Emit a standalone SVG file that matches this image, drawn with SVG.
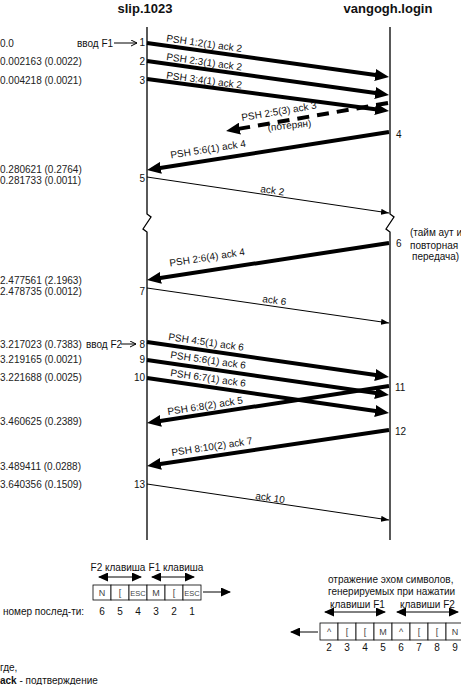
<svg xmlns="http://www.w3.org/2000/svg" width="461" height="685" viewBox="0 0 461 685">
<defs>
<style>
text{font-family:"Liberation Sans",Arial,sans-serif;font-size:10px;fill:#111}
.hdr{font-size:13px;font-weight:bold}
.tm{fill:#222}
.thick{stroke:#000;stroke-width:4;fill:none}
.thin{stroke:#000;stroke-width:1;fill:none}
.dash{stroke:#000;stroke-width:4;fill:none;stroke-dasharray:12 8}
.life{stroke:#000;stroke-width:1.3;fill:none}
.box{fill:#fff;stroke:#000;stroke-width:0.8}
.bc{font-size:9px;fill:#444;text-anchor:middle}
.esc{font-size:7.5px}
.num{text-anchor:middle}
.r{text-anchor:end}
</style>
<marker id="big" markerUnits="userSpaceOnUse" markerWidth="14" markerHeight="12" refX="4" refY="6" orient="auto"><path d="M0,0 L14,6 L0,12 z" fill="#000"/></marker>
<marker id="sm" markerUnits="userSpaceOnUse" markerWidth="8" markerHeight="6" refX="8" refY="3" orient="auto"><path d="M0,0 L8,3 L0,6 z" fill="#000"/></marker>
<marker id="mid" markerUnits="userSpaceOnUse" markerWidth="10" markerHeight="9" refX="9" refY="4.5" orient="auto-start-reverse"><path d="M0,0 L10,4.5 L0,9 z" fill="#000"/></marker>
<marker id="open" markerUnits="userSpaceOnUse" markerWidth="7" markerHeight="7" refX="6" refY="3.5" orient="auto"><path d="M0,0.5 L6,3.5 L0,6.5" fill="none" stroke="#000" stroke-width="1"/></marker>
</defs>
<rect width="461" height="685" fill="#fff"/>

<g id="host-slip">
<text class="hdr" x="145" y="13" text-anchor="middle">slip.1023</text>
<polyline class="life" points="147,27 147,214 151,217 143,229 147,232 147,540"/>
</g>
<g id="host-vangogh">
<text class="hdr" x="388" y="13" text-anchor="middle">vangogh.login</text>
<polyline class="life" points="390,27 390,214 394,217 386,229 390,232 390,540"/>
</g>

<g id="times">
<text class="tm" x="0" y="46.5">0.0</text>
<text class="tm" x="0" y="64.5">0.002163 (0.0022)</text>
<text class="tm" x="0" y="83.5">0.004218 (0.0021)</text>
<text class="tm" x="0" y="172.5">0.280621 (0.2764)</text>
<text class="tm" x="0" y="183.5">0.281733 (0.0011)</text>
<text class="tm" x="0" y="283.5">2.477561 (2.1963)</text>
<text class="tm" x="0" y="294.5">2.478735 (0.0012)</text>
<text class="tm" x="0" y="347.5">3.217023 (0.7383)</text>
<text class="tm" x="0" y="362.5">3.219165 (0.0021)</text>
<text class="tm" x="0" y="380.5">3.221688 (0.0025)</text>
<text class="tm" x="0" y="424.5">3.460625 (0.2389)</text>
<text class="tm" x="0" y="469.5">3.489411 (0.0288)</text>
<text class="tm" x="0" y="487.5">3.640356 (0.1509)</text>
</g>

<g id="inputs">
<text x="77" y="46.5">ввод F1</text>
<line class="thin" x1="114" y1="43" x2="137" y2="43" marker-end="url(#open)"/>
<text x="86" y="347.5">ввод F2</text>
<line class="thin" x1="121" y1="344" x2="136" y2="344" marker-end="url(#open)"/>
</g>

<g id="connectors">
<line class="thick" x1="147" y1="43" x2="379.1" y2="75.6" marker-end="url(#big)"/>
<line class="thick" x1="147" y1="61" x2="379.1" y2="93.6" marker-end="url(#big)"/>
<line class="thick" x1="147" y1="79" x2="379.1" y2="109.7" marker-end="url(#big)"/>
<line class="dash" x1="388" y1="103" x2="235.9" y2="129.3" marker-end="url(#big)"/>
<line class="thick" x1="389" y1="132" x2="156.9" y2="168.5" marker-end="url(#big)"/>
<line class="thin" x1="147" y1="177" x2="389" y2="213" marker-end="url(#sm)"/>
<line class="thick" x1="389" y1="243" x2="156.9" y2="278.5" marker-end="url(#big)"/>
<line class="thin" x1="147" y1="288" x2="389" y2="323" marker-end="url(#sm)"/>
<line class="thick" x1="147" y1="342" x2="379.1" y2="375.6" marker-end="url(#big)"/>
<line class="thick" x1="147" y1="360" x2="379.1" y2="393.6" marker-end="url(#big)"/>
<line class="thick" x1="147" y1="378" x2="379.1" y2="411.6" marker-end="url(#big)"/>
<line class="thick" x1="389" y1="386" x2="156.9" y2="421.5" marker-end="url(#big)"/>
<line class="thick" x1="389" y1="430" x2="156.9" y2="464.5" marker-end="url(#big)"/>
<line class="thin" x1="147" y1="484" x2="389" y2="520" marker-end="url(#sm)"/>
</g>

<g id="segment-labels">
<text x="166" y="41.5" transform="rotate(8 166 41.5)">PSH 1:2(1)  ack 2</text>
<text x="166" y="60" transform="rotate(8 166 60)">PSH 2:3(1)  ack 2</text>
<text x="166" y="78.5" transform="rotate(7.6 166 78.5)">PSH 3:4(1)  ack 2</text>
<text x="242" y="121" transform="rotate(-9.5 242 121)">PSH 2:5(3)  ack 3</text>
<text x="268" y="131" transform="rotate(-6 268 131)">(потерян)</text>
<text x="171" y="158.5" transform="rotate(-9 171 158.5)">PSH 5:6(1)  ack 4</text>
<text x="260" y="192" transform="rotate(8.5 260 192)">ack 2</text>
<text x="170" y="266.5" transform="rotate(-8.7 170 266.5)">PSH 2:6(4)  ack 4</text>
<text x="262" y="302" transform="rotate(8.2 262 302)">ack 6</text>
<text x="168" y="340" transform="rotate(8.2 168 340)">PSH 4:5(1)  ack 6</text>
<text x="170" y="358" transform="rotate(8.2 170 358)">PSH 5:6(1)  ack 6</text>
<text x="170" y="376" transform="rotate(8.2 170 376)">PSH 6:7(1)  ack 6</text>
<text x="168" y="415" transform="rotate(-8.7 168 415)">PSH 6:8(2)  ack 5</text>
<text x="172" y="456" transform="rotate(-8.5 172 456)">PSH 8:10(2)  ack 7</text>
<text x="255" y="499" transform="rotate(8.5 255 499)">ack 10</text>
</g>

<g id="segment-numbers">
<text class="r" x="145" y="46">1</text>
<text class="r" x="145" y="65">2</text>
<text class="r" x="145" y="83.5">3</text>
<text x="396" y="138">4</text>
<text class="r" x="145" y="181.5">5</text>
<text x="396" y="247">6</text>
<text class="r" x="145" y="294.5">7</text>
<text class="r" x="145" y="347.5">8</text>
<text class="r" x="145" y="363">9</text>
<text class="r" x="145" y="381">10</text>
<text x="395" y="391">11</text>
<text x="395" y="435">12</text>
<text class="r" x="145" y="487.5">13</text>
</g>

<g id="timeout-note">
<text x="410" y="235.5">(тайм аут и</text>
<text x="410" y="248.5">повторная</text>
<text x="412" y="259.5">передача)</text>
</g>

<g id="sent-keys">
<text x="118" y="571" text-anchor="middle">F2 клавиша</text>
<text x="176" y="571" text-anchor="middle">F1 клавиша</text>
<line class="thin" x1="99" y1="577" x2="141" y2="577" marker-start="url(#mid)" marker-end="url(#mid)"/>
<line class="thin" x1="152" y1="577" x2="194" y2="577" marker-start="url(#mid)" marker-end="url(#mid)"/>
<rect class="box" x="93" y="585" width="18" height="15"/>
<rect class="box" x="111" y="585" width="18" height="15"/>
<rect class="box" x="129" y="585" width="18" height="15"/>
<rect class="box" x="147" y="585" width="18" height="15"/>
<rect class="box" x="165" y="585" width="18" height="15"/>
<rect class="box" x="183" y="585" width="18" height="15"/>
<text class="bc" x="102" y="596">N</text>
<text class="bc" x="120" y="596">[</text>
<text class="bc esc" x="138" y="595.5">ESC</text>
<text class="bc" x="156" y="596">M</text>
<text class="bc" x="174" y="596">[</text>
<text class="bc esc" x="192" y="595.5">ESC</text>
<line class="thin" x1="203" y1="592" x2="230" y2="592" marker-end="url(#mid)"/>
<text x="3" y="615">номер послед-ти:</text>
<text class="num" x="102" y="615">6</text>
<text class="num" x="120" y="615">5</text>
<text class="num" x="138" y="615">4</text>
<text class="num" x="156" y="615">3</text>
<text class="num" x="174" y="615">2</text>
<text class="num" x="192" y="615">1</text>
</g>

<g id="echo-keys">
<text x="328" y="583">отражение эхом символов,</text>
<text x="328" y="595">генерируемых при нажатии</text>
<text x="330" y="608">клавиши F1</text>
<text x="400" y="608">клавиши F2</text>
<line class="thin" x1="325" y1="612" x2="385" y2="612" marker-start="url(#mid)" marker-end="url(#mid)"/>
<line class="thin" x1="397" y1="612" x2="458" y2="612" marker-start="url(#mid)" marker-end="url(#mid)"/>
<line class="thin" x1="318" y1="632" x2="291" y2="632" marker-end="url(#mid)"/>
<rect class="box" x="320" y="623" width="18" height="17"/>
<rect class="box" x="338" y="623" width="18" height="17"/>
<rect class="box" x="356" y="623" width="18" height="17"/>
<rect class="box" x="374" y="623" width="18" height="17"/>
<rect class="box" x="392" y="623" width="18" height="17"/>
<rect class="box" x="410" y="623" width="18" height="17"/>
<rect class="box" x="428" y="623" width="18" height="17"/>
<rect class="box" x="446" y="623" width="18" height="17"/>
<text class="bc" x="329" y="635">^</text>
<text class="bc" x="347" y="635">[</text>
<text class="bc" x="365" y="635">[</text>
<text class="bc" x="383" y="635">M</text>
<text class="bc" x="401" y="635">^</text>
<text class="bc" x="419" y="635">[</text>
<text class="bc" x="437" y="635">[</text>
<text class="bc" x="455" y="635">N</text>
<text class="num" x="329" y="651">2</text>
<text class="num" x="347" y="651">3</text>
<text class="num" x="365" y="651">4</text>
<text class="num" x="383" y="651">5</text>
<text class="num" x="401" y="651">6</text>
<text class="num" x="419" y="651">7</text>
<text class="num" x="437" y="651">8</text>
<text class="num" x="455" y="651">9</text>
</g>

<g id="legend">
<text x="0" y="671">где,</text>
<text x="0" y="684"><tspan font-weight="bold">ack</tspan> - подтверждение</text>
</g>
</svg>
